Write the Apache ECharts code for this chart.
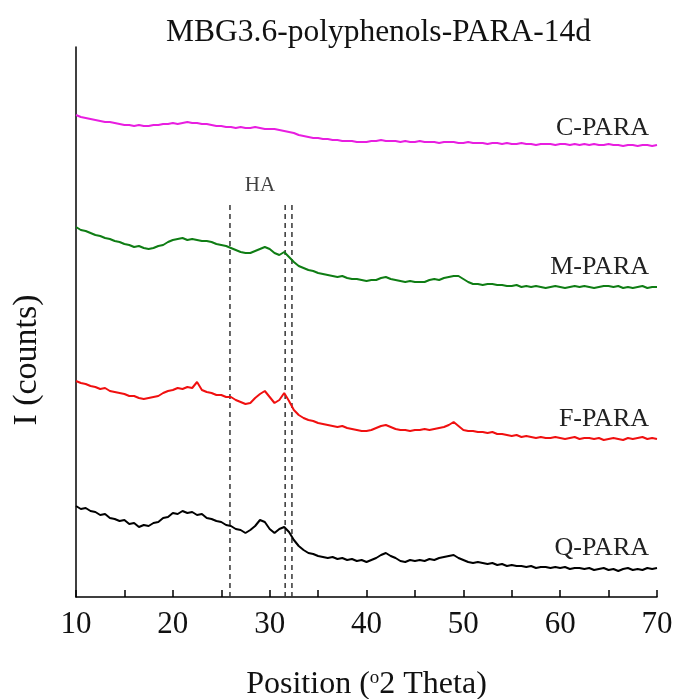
<!DOCTYPE html>
<html>
<head>
<meta charset="utf-8">
<script src="https://cdn.jsdelivr.net/npm/echarts@6/dist/echarts.min.js"></script>
<style>html,body{margin:0;padding:0;background:#fff}#c{width:674px;height:699px}</style>
</head>
<body>
<div id="c"></div>
<script>
// 2θ sampling grid: 10° to 70°, every 0.5°
const thetaStart = 10, thetaStep = 0.5;
// Intensities (arbitrary counts, offset-stacked as in the figure)
const qPara = [
  91,88,89,86,85,82,83,79,78,76,
  77,73,74,70,72,71,74,75,79,80,
  84,83,86,84,85,82,83,79,78,76,
  75,72,71,68,67,64,67,71,77,75,
  68,64,68,70,65,57,51,47,44,43,
  41,40,39,40,38,39,37,38,36,37,
  35,37,39,42,44,41,39,36,35,37,
  36,37,36,38,37,39,40,41,42,39,
  37,35,34,35,34,33,34,32,33,31,
  32,31,31,30,31,29,30,30,29,30,
  29,30,28,29,29,28,29,27,28,29,
  27,28,26,28,29,27,28,27,29,28,
  29];
const fPara = [
  216,214,213,211,210,208,209,206,205,204,
  203,201,201,199,198,199,200,201,204,206,
  207,209,208,210,209,215,207,205,204,202,
  202,200,200,197,195,193,194,199,203,206,
  200,194,197,204,196,187,182,179,177,176,
  174,173,172,171,170,171,169,168,167,166,
  166,167,169,171,172,170,168,167,167,166,
  167,167,168,167,168,169,170,172,175,171,
  167,166,166,165,165,164,165,163,163,162,
  161,162,160,161,160,159,160,159,159,160,
  159,158,159,160,158,159,159,158,159,157,
  158,159,158,157,159,158,159,160,158,159,
  158];
const mPara = [
  370,367,366,364,362,361,359,358,356,355,
  353,352,350,351,349,348,349,351,352,355,
  357,358,359,357,358,357,356,356,355,353,
  352,351,349,347,345,344,344,346,348,350,
  348,344,342,345,340,335,331,329,327,326,
  324,323,322,321,320,321,319,318,318,317,
  316,317,317,319,320,318,317,316,315,316,
  315,315,315,317,318,317,319,320,321,321,
  318,315,313,313,312,313,313,312,312,311,
  311,312,310,311,310,311,310,309,310,311,
  310,309,310,311,310,311,310,309,310,311,
  311,310,311,309,310,309,310,311,309,310,
  310];
const cPara = [
  482,480,479,478,477,476,475,475,474,473,
  472,472,471,472,471,471,472,472,473,473,
  474,473,474,475,474,474,473,473,472,471,
  471,470,470,469,470,469,469,470,469,468,
  468,468,467,466,465,464,462,461,460,459,
  459,458,458,457,457,456,456,456,455,455,
  455,456,456,457,456,456,456,455,456,455,
  455,456,455,455,455,454,455,455,455,454,
  454,455,454,454,454,453,454,454,453,454,
  453,453,454,453,453,452,453,453,453,452,
  453,453,452,453,452,453,452,453,452,452,
  453,452,452,451,452,452,451,452,452,451,
  452];
const seriesNames = ['C-PARA', 'M-PARA', 'F-PARA', 'Q-PARA'];
// HA reference peak positions (°2θ) and the top of their marker lines
const haPeaks = [25.9, 31.6, 32.3];
const haTop = 396;
const haLabel = {text: 'HA', theta: 29.0, value: 412};
const xTicks = [10, 20, 30, 40, 50, 60, 70];

const toPairs = arr => arr.map((v, i) => [thetaStart + thetaStep * i, v]);
const FONT = 'Liberation Serif';
const colors = {'C-PARA': '#e81ee0', 'M-PARA': '#0f7d14', 'F-PARA': '#f01010', 'Q-PARA': '#000000'};
const dataMap = {'C-PARA': cPara, 'M-PARA': mPara, 'F-PARA': fPara, 'Q-PARA': qPara};
const labelOffsets = {'C-PARA': [-8, -4], 'M-PARA': [-8, -7], 'F-PARA': [-8, -7], 'Q-PARA': [-8, -7]};

const series = [];
haPeaks.forEach(p => {
  series.push({
    type: 'line', data: [[p, 0], [p, haTop]], symbol: 'none', silent: true,
    lineStyle: {color: '#333', width: 1.5, type: [5, 4]}, z: 1
  });
});
seriesNames.forEach(n => {
  series.push({
    name: n, type: 'line', data: toPairs(dataMap[n]), symbol: 'none',
    lineStyle: {color: colors[n], width: 2}, z: 3,
    endLabel: {
      show: true, formatter: n, align: 'right', verticalAlign: 'bottom',
      offset: labelOffsets[n], distance: 0, fontFamily: FONT, fontSize: 26, color: '#222'
    }
  });
});
series.push({
  type: 'scatter', data: [[haLabel.theta, haLabel.value]], symbolSize: 0, silent: true,
  label: {show: true, position: 'inside', formatter: haLabel.text, fontFamily: FONT, fontSize: 21, color: '#111'}
});

const chart = echarts.init(document.getElementById('c'), null, {renderer: 'canvas'});
chart.setOption({
  animation: false,
  backgroundColor: '#fff',
  title: {
    text: 'MBG3.6-polyphenols-PARA-14d', left: 161, top: 12,
    textStyle: {fontFamily: FONT, fontSize: 31.5, fontWeight: 'normal', color: '#111'}
  },
  grid: {left: 76, right: 17, top: 47, bottom: 102, outerBoundsMode: 'none', containLabel: false},
  xAxis: {
    type: 'value', min: 10, max: 70, interval: 10,
    axisLine: {show: true, onZero: false, lineStyle: {color: '#000', width: 1.5}},
    axisTick: {show: true, inside: true, length: 7, lineStyle: {color: '#000', width: 1.5}},
    minorTick: {show: true, splitNumber: 2, length: 7, lineStyle: {color: '#000', width: 1.5}},
    splitLine: {show: false},
    axisLabel: {
      margin: 12, fontFamily: FONT, fontSize: 31, color: '#111',
      formatter: v => xTicks.includes(v) ? String(v) : ''
    },
    name: '{a|Position (}{s|o}{a|2 Theta)}', nameLocation: 'middle', nameGap: 72,
    nameTextStyle: {
      rich: {
        a: {fontFamily: FONT, fontSize: 32, color: '#111'},
        s: {fontFamily: FONT, fontSize: 19, color: '#111', verticalAlign: 'top', padding: [0, 0, 12, 0]}
      }
    }
  },
  yAxis: {
    type: 'value', min: 0, max: 550,
    axisLine: {show: true, lineStyle: {color: '#000', width: 1.5}},
    axisTick: {show: false}, axisLabel: {show: false}, splitLine: {show: false},
    name: 'I (counts)', nameLocation: 'middle', nameGap: 32,
    nameTextStyle: {fontFamily: FONT, fontSize: 34, color: '#111', padding: [0, 76, 0, 0]}
  },
  series: series
});
</script>
</body>
</html>
